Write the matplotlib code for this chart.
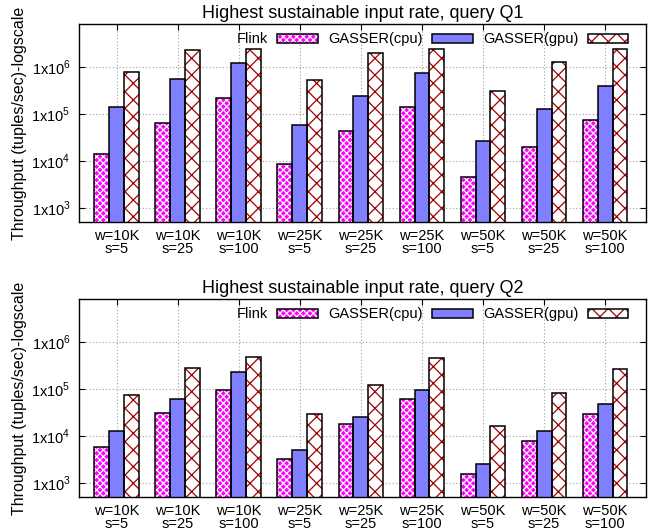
import matplotlib.pyplot as plt
import numpy as np
from matplotlib.patches import Patch
from matplotlib.ticker import NullLocator

plt.rcParams["font.family"] = ["Liberation Sans", "DejaVu Sans"]
plt.rcParams["mathtext.fontset"] = "custom"
plt.rcParams["mathtext.rm"] = "Liberation Sans"
plt.rcParams["hatch.linewidth"] = 0.9

configs = [
    "w=10K\ns=5", "w=10K\ns=25", "w=10K\ns=100",
    "w=25K\ns=5", "w=25K\ns=25", "w=25K\ns=100",
    "w=50K\ns=5", "w=50K\ns=25", "w=50K\ns=100",
]
systems = ["Flink", "GASSER(cpu)", "GASSER(gpu)"]

# query Q1 throughput (tuples/sec)
q1_flink = [1.4e4, 6.3e4, 2.1e5, 8.4e3, 4.2e4, 1.38e5, 4.6e3, 2.0e4, 7.3e4]
q1_gasser_cpu = [1.36e5, 5.5e5, 1.18e6, 5.8e4, 2.4e5, 7.3e5, 2.6e4, 1.26e5, 3.9e5]
q1_gasser_gpu = [7.5e5, 2.25e6, 2.36e6, 5.1e5, 1.95e6, 2.32e6, 2.97e5, 1.26e6, 2.32e6]

# query Q2 throughput (tuples/sec)
q2_flink = [5.8e3, 3.0e4, 9.2e4, 3.2e3, 1.76e4, 6.0e4, 1.55e3, 7.8e3, 2.9e4]
q2_gasser_cpu = [1.24e4, 6.0e4, 2.2e5, 5.0e3, 2.44e4, 9.2e4, 2.48e3, 1.24e4, 4.7e4]
q2_gasser_gpu = [7.2e4, 2.7e5, 4.6e5, 2.87e4, 1.17e5, 4.5e5, 1.63e4, 8.0e4, 2.6e5]

ytick_values = [1e3, 1e4, 1e5, 1e6]
ytick_labels = [r"1x10$^{3}$", r"1x10$^{4}$", r"1x10$^{5}$", r"1x10$^{6}$"]

styles = [
    {"face": "#ff00ff", "hatch": "xxxxx", "hatch_color": "white"},
    {"face": "#7f7fff", "hatch": None, "hatch_color": "#7f7fff"},
    {"face": "white", "hatch": "xx", "hatch_color": "#a00000"},
]
bar_width = 0.245


def draw_panel(ax, title, series):
    x = np.arange(len(configs))
    ax.set_yscale("log")
    for k, (vals, st) in enumerate(zip(series, styles)):
        pos = x + (k - 1) * bar_width
        ax.bar(pos, vals, bar_width, color=st["face"], hatch=st["hatch"],
               edgecolor=st["hatch_color"], linewidth=0, zorder=2)
        ax.bar(pos, vals, bar_width, fill=False, edgecolor="black",
               linewidth=1.1, zorder=3)
    ax.set_xlim(-0.62, 8.67)
    ax.set_ylim(500, 8e6)
    ax.set_xticks(x)
    ax.set_xticklabels(configs, fontsize=10.5, linespacing=0.95)
    ax.set_yticks(ytick_values)
    ax.set_yticklabels(ytick_labels, fontsize=10.5)
    ax.yaxis.set_minor_locator(NullLocator())
    ax.tick_params(direction="in", top=True, right=True, length=4, width=0.8)
    ax.tick_params(axis="x", pad=5)
    ax.tick_params(axis="y", pad=6)
    ax.grid(True, color="#a0a0a0", linestyle=(0, (1, 2)), linewidth=0.8)
    ax.set_axisbelow(True)
    for sp in ax.spines.values():
        sp.set_linewidth(1.0)
    ax.set_title(title, fontsize=13, pad=4)
    ax.set_ylabel("Throughput (tuples/sec)-logscale", fontsize=11.5)
    ax.yaxis.set_label_coords(-0.092, 0.5)

    handles = []
    for st in styles:
        fill = Patch(facecolor=st["face"], hatch=st["hatch"],
                     edgecolor=st["hatch_color"], linewidth=0)
        outline = Patch(fill=False, edgecolor="black", linewidth=1.1)
        handles.append((fill, outline))
    ax.legend(handles, systems, ncol=3, markerfirst=False, frameon=False,
              fontsize=10.5, handlelength=2.8, handleheight=0.55,
              handletextpad=0.6, columnspacing=0.75, borderpad=0,
              loc="center right", bbox_to_anchor=(0.982, 0.922))


fig = plt.figure(figsize=(6.55, 5.3), dpi=100)
ax1 = fig.add_axes([0.1206, 0.5811, 0.8656, 0.3736])
ax2 = fig.add_axes([0.1206, 0.0623, 0.8656, 0.3736])

draw_panel(ax1, "Highest sustainable input rate, query Q1",
           [q1_flink, q1_gasser_cpu, q1_gasser_gpu])
draw_panel(ax2, "Highest sustainable input rate, query Q2",
           [q2_flink, q2_gasser_cpu, q2_gasser_gpu])

fig.savefig("out.png", dpi=100)
